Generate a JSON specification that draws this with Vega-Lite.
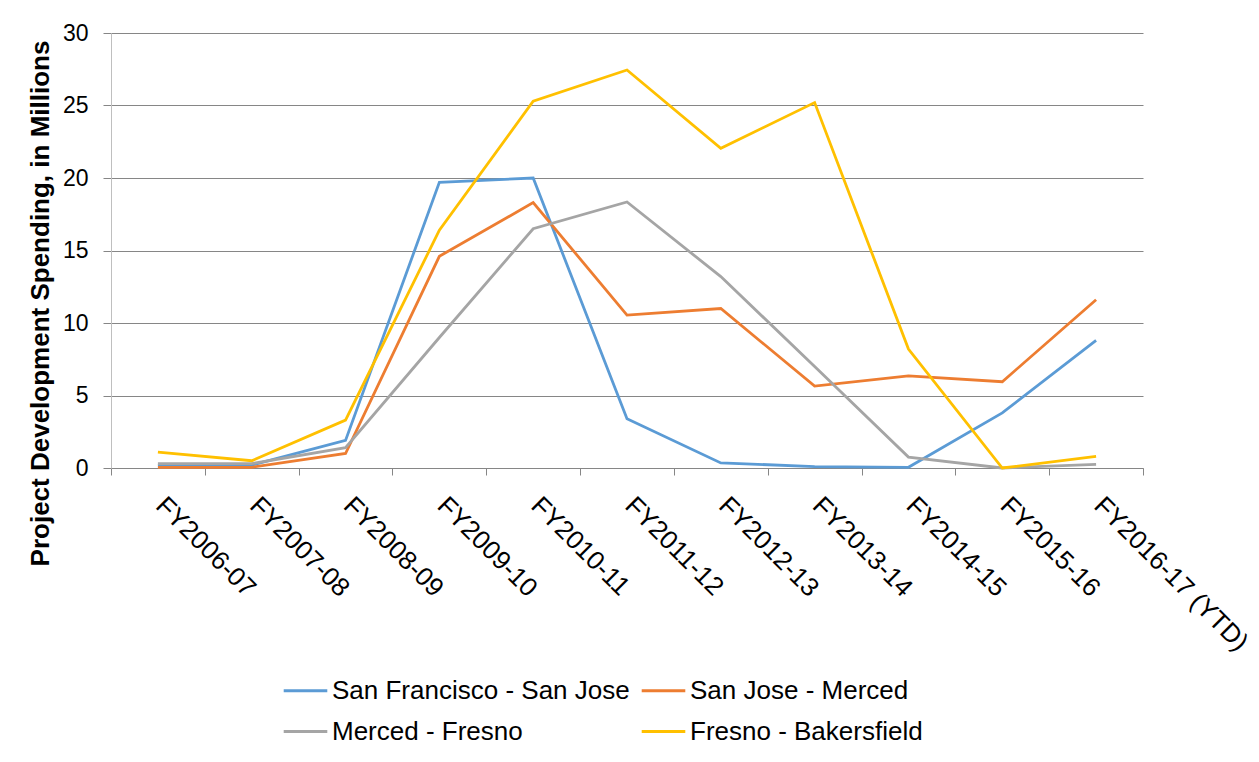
{
  "$schema": "https://vega.github.io/schema/vega-lite/v6.json",
  "width": 1032,
  "height": 435,
  "autosize": {"type": "none"},
  "padding": {"left": 111, "top": 33, "right": 116, "bottom": 294},
  "background": "white",
  "config": {
    "font": "Liberation Sans",
    "view": {"stroke": null}
  },
  "data": {
    "values": [
      {"fy": "FY2006-07", "series": "San Francisco - San Jose", "value": 0.2},
      {"fy": "FY2007-08", "series": "San Francisco - San Jose", "value": 0.2},
      {"fy": "FY2008-09", "series": "San Francisco - San Jose", "value": 1.9},
      {"fy": "FY2009-10", "series": "San Francisco - San Jose", "value": 19.7},
      {"fy": "FY2010-11", "series": "San Francisco - San Jose", "value": 20.0},
      {"fy": "FY2011-12", "series": "San Francisco - San Jose", "value": 3.4},
      {"fy": "FY2012-13", "series": "San Francisco - San Jose", "value": 0.35},
      {"fy": "FY2013-14", "series": "San Francisco - San Jose", "value": 0.1},
      {"fy": "FY2014-15", "series": "San Francisco - San Jose", "value": 0.05},
      {"fy": "FY2015-16", "series": "San Francisco - San Jose", "value": 3.8},
      {"fy": "FY2016-17 (YTD)", "series": "San Francisco - San Jose", "value": 8.8},
      {"fy": "FY2006-07", "series": "San Jose - Merced", "value": 0.05},
      {"fy": "FY2007-08", "series": "San Jose - Merced", "value": 0.05},
      {"fy": "FY2008-09", "series": "San Jose - Merced", "value": 1.0},
      {"fy": "FY2009-10", "series": "San Jose - Merced", "value": 14.6},
      {"fy": "FY2010-11", "series": "San Jose - Merced", "value": 18.3},
      {"fy": "FY2011-12", "series": "San Jose - Merced", "value": 10.55},
      {"fy": "FY2012-13", "series": "San Jose - Merced", "value": 11.0},
      {"fy": "FY2013-14", "series": "San Jose - Merced", "value": 5.65},
      {"fy": "FY2014-15", "series": "San Jose - Merced", "value": 6.35},
      {"fy": "FY2015-16", "series": "San Jose - Merced", "value": 5.95},
      {"fy": "FY2016-17 (YTD)", "series": "San Jose - Merced", "value": 11.6},
      {"fy": "FY2006-07", "series": "Merced - Fresno", "value": 0.3},
      {"fy": "FY2007-08", "series": "Merced - Fresno", "value": 0.3},
      {"fy": "FY2008-09", "series": "Merced - Fresno", "value": 1.4},
      {"fy": "FY2009-10", "series": "Merced - Fresno", "value": 9.0},
      {"fy": "FY2010-11", "series": "Merced - Fresno", "value": 16.5},
      {"fy": "FY2011-12", "series": "Merced - Fresno", "value": 18.35},
      {"fy": "FY2012-13", "series": "Merced - Fresno", "value": 13.2},
      {"fy": "FY2013-14", "series": "Merced - Fresno", "value": 7.0},
      {"fy": "FY2014-15", "series": "Merced - Fresno", "value": 0.75},
      {"fy": "FY2015-16", "series": "Merced - Fresno", "value": 0.0},
      {"fy": "FY2016-17 (YTD)", "series": "Merced - Fresno", "value": 0.25},
      {"fy": "FY2006-07", "series": "Fresno - Bakersfield", "value": 1.1},
      {"fy": "FY2007-08", "series": "Fresno - Bakersfield", "value": 0.5},
      {"fy": "FY2008-09", "series": "Fresno - Bakersfield", "value": 3.3},
      {"fy": "FY2009-10", "series": "Fresno - Bakersfield", "value": 16.4},
      {"fy": "FY2010-11", "series": "Fresno - Bakersfield", "value": 25.3},
      {"fy": "FY2011-12", "series": "Fresno - Bakersfield", "value": 27.45},
      {"fy": "FY2012-13", "series": "Fresno - Bakersfield", "value": 22.05},
      {"fy": "FY2013-14", "series": "Fresno - Bakersfield", "value": 25.2},
      {"fy": "FY2014-15", "series": "Fresno - Bakersfield", "value": 8.2},
      {"fy": "FY2015-16", "series": "Fresno - Bakersfield", "value": 0.0},
      {"fy": "FY2016-17 (YTD)", "series": "Fresno - Bakersfield", "value": 0.8}
    ]
  },
  "mark": {"type": "line", "strokeWidth": 2.8, "strokeJoin": "miter"},
  "encoding": {
    "x": {
      "field": "fy",
      "type": "ordinal",
      "sort": null,
      "scale": {"type": "band", "paddingInner": 0, "paddingOuter": 0},
      "axis": {
        "title": null,
        "labelAngle": 45,
        "labelAlign": "left",
        "labelBaseline": "top",
        "labelFontSize": 26,
        "labelColor": "black",
        "labelPadding": 17,
        "labelOffset": 11,
        "labelLimit": 400,
        "tickBand": "extent",
        "tickSize": 7,
        "tickColor": "#868686",
        "domainColor": "#868686",
        "grid": false,
        "labelOverlap": false
      }
    },
    "y": {
      "field": "value",
      "type": "quantitative",
      "scale": {"domain": [0, 30], "nice": false},
      "axis": {
        "values": [0, 5, 10, 15, 20, 25, 30],
        "title": "Project Development Spending, in Millions",
        "titleFontSize": 26,
        "titleFontWeight": "bold",
        "titleColor": "black",
        "titleAngle": 270,
        "titleAlign": "center",
        "titleBaseline": "middle",
        "titleX": -71,
        "titleY": 270,
        "labelFontSize": 23,
        "labelColor": "black",
        "labelPadding": 15,
        "tickSize": 8,
        "tickColor": "#868686",
        "domainColor": "#BFBFBF",
        "gridColor": "#868686",
        "gridWidth": 1
      }
    },
    "color": {
      "field": "series",
      "type": "nominal",
      "scale": {
        "domain": ["San Francisco - San Jose", "San Jose - Merced", "Merced - Fresno", "Fresno - Bakersfield"],
        "range": ["#5B9BD5", "#ED7D31", "#A5A5A5", "#FFC000"]
      },
      "legend": {
        "title": null,
        "orient": "none",
        "direction": "horizontal",
        "legendX": 171,
        "legendY": 634,
        "columns": 2,
        "symbolType": "stroke",
        "symbolStrokeWidth": 3,
        "symbolSize": 1900,
        "labelFontSize": 26,
        "labelColor": "black",
        "labelLimit": 400,
        "columnPadding": 5,
        "rowPadding": 4,
        "labelOffset": 3
      }
    }
  }
}
